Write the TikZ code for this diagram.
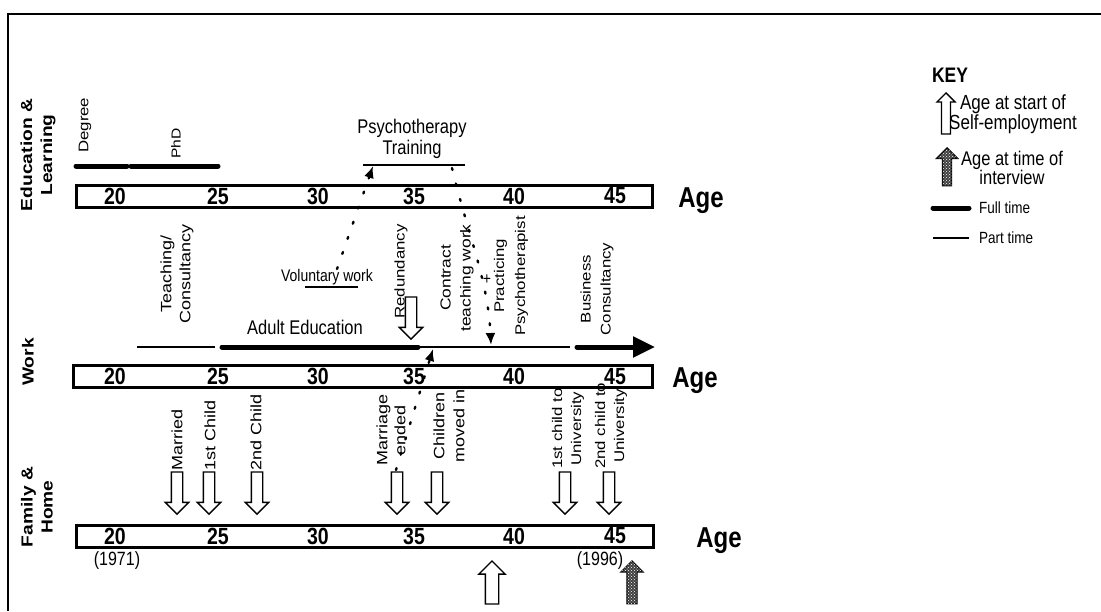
\documentclass[tikz,border=0pt]{standalone}
\usepackage{fontspec}
\setmainfont{Liberation Sans}
\usetikzlibrary{arrows.meta,shapes.arrows,patterns}
\newcommand\fz[2]{\fontsize{#1}{#2}\selectfont}
\begin{document}
\begin{tikzpicture}[x=1pt,y=-1pt,
  txt/.style={yscale=1.2, inner sep=0pt, align=center},
  rtxt/.style={inner sep=0pt, align=center, yscale=1.2, rotate=90},
  rlab/.style={rtxt, anchor=west},
  clab/.style={rtxt},
  cat/.style={rtxt, font=\bfseries\fz{16}{20}},
  num/.style={txt, font=\bfseries\fz{19.5}{20}},
  agelab/.style={txt, font=\bfseries\fz{24}{26}},
  yr/.style={txt, font=\fz{16}{18}},
  agebar/.style={draw, line width=3pt, inner sep=0pt, minimum height=22pt},
  full/.style={line width=5pt, line cap=round},
  part/.style={line width=2.8pt},
  dots/.style={line width=2.4pt, dash pattern=on 2pt off 14pt, line cap=round, -{Latex[length=12pt,width=10pt]}},
  downarr/.style={single arrow, draw, line width=1.4pt, fill=white, inner xsep=0pt, inner ysep=5pt, single arrow head extend=6pt, minimum height=42pt, rotate=-90, anchor=tip},
  bigup/.style={single arrow, draw, line width=1.4pt, fill=white, inner xsep=0pt, inner ysep=6pt, single arrow head extend=6.5pt, minimum height=43pt, rotate=90, anchor=tip},
  bigpat/.style={single arrow, draw, line width=1.2pt, fill=black!75, postaction={pattern=crosshatch dots, pattern color=white}, inner xsep=0pt, inner ysep=4.5pt, single arrow head extend=6pt, minimum height=43pt, rotate=90, anchor=tip},
  keyup/.style={single arrow, draw, line width=1.3pt, fill=white, inner xsep=0pt, inner ysep=3.8pt, single arrow head extend=4.7pt, minimum height=41pt, rotate=90, anchor=tip},
  keypat/.style={single arrow, draw, line width=1.2pt, fill=black!75, postaction={pattern=crosshatch dots, pattern color=white}, inner xsep=0pt, inner ysep=4pt, single arrow head extend=6pt, minimum height=38pt, rotate=90, anchor=tip}
]
\useasboundingbox (0,0) rectangle (1101,611);
% frame
\coordinate (fbl) at (8,611);
\coordinate (ftl) at (8,14);
\coordinate (ftr) at (1101,14);
\draw[line width=1.6pt] (fbl) -- (ftl) -- (ftr);

% category labels
\node[cat] (edlab) at (38,155) {Education \&\\Learning};
\node[cat] (worklab) at (28,362) {Work};
\node[cat] (famlab) at (37,507) {Family \&\\Home};

% age bars
\node[agebar, minimum width=576pt] (edubar) at (364,196) {};
\node[agebar, minimum width=579pt] (workbar) at (362.5,376.5) {};
\node[agebar, minimum width=577pt] (fambar) at (364.5,536) {};
\foreach \a/\x in {20/115,25/218,30/318,35/414,40/514,45/615}{
  \node[num] (edu\a) at (\x,196) {\a};
  \node[num] (work\a) at (\x,376.5) {\a};
  \node[num] (fam\a) at (\x,536) {\a};
}
\node[agelab] (ageedu) at (701,201) {Age};
\node[agelab] (agework) at (695,381) {Age};
\node[agelab] (agefam) at (719,541) {Age};

% education row
\draw[full] (76,166) -- (127,166);
\draw[full] (131,166) -- (218,166);
\node[rlab, font=\fz{14}{16}] (degree) at (85,153) {Degree};
\node[rlab, font=\fz{13}{15}] (phd) at (176,159) {PhD};
\node[txt, font=\fz{16.5}{18}] (psych) at (412,139) {Psychotherapy\\Training};
\draw[part] (363,165) -- (465,165);
\node[txt, font=\fz{14}{16}] (vol) at (327,277) {Voluntary work};
\draw[part] (305,287) -- (358,287);

% work row
\node[clab, font=\fz{15}{19}] (teach) at (177,274) {Teaching/\\Consultancy};
\draw[part] (137,347) -- (215,347);
\node[txt, font=\fz{16.5}{18}] (adult) at (305,327) {Adult Education};
\draw[full] (222,347) -- (418,347);
\draw[part] (418,347) -- (570,347);
\draw[full, -{Triangle[length=22pt,width=20pt]}] (577,347) -- (655,347);
\node[rlab, font=\fz{14}{16}] (redund) at (401,319) {Redundancy};
\node[downarr] (redarr) at (411,340) {};
\node[clab, font=\fz{14.5}{20}] (contract) at (457,278) {Contract\\teaching work};
\node[txt, font=\fz{14}{16}] (plus) at (487,280) {+};
\node[clab, font=\fz{14}{21}] (practice) at (511,276) {Practicing\\Psychotherapist};
\node[clab, font=\fz{14}{20}] (business) at (597,289) {Business\\Consultancy};

% family row
\foreach \n/\x in {married/177,child1/209,child2/257,ended/397,moved/437,uni1/565,uni2/609}{
  \node[downarr] (arr-\n) at (\x,515) {};
}
\node[rlab, font=\fz{15}{17}] (married) at (177,471) {Married};
\node[rlab, font=\fz{15}{17}] (child1) at (210,471) {1st Child};
\node[rlab, font=\fz{15}{17}] (child2) at (256,471) {2nd Child};
\node[rlab, font=\fz{15}{18}] (ended) at (391,466) {Marriage\\ended};
\node[rlab, font=\fz{15}{20}] (moved) at (449,463) {Children\\moved in};
\node[rlab, font=\fz{14}{19}] (uni1) at (568,469) {1st child to\\University};
\node[rlab, font=\fz{14}{19}] (uni2) at (611,469) {2nd child to\\University};

% dotted links
\coordinate (volstart) at (337,269);
\coordinate (trainhit) at (373,166);
\draw[dots] (volstart) -- (trainhit);
\coordinate (trainstart) at (452,168);
\coordinate (adulthit) at (491,345);
\draw[dots] (trainstart) .. controls (468,235) and (488,280) .. (adulthit);
\coordinate (marstart) at (396,470);
\coordinate (adulthit2) at (433,349);
\draw[dots] (marstart) -- (adulthit2);

% bottom
\node[yr] (y1971) at (117,561) {(1971)};
\node[yr] (y1996) at (600,561) {(1996)};
\node[bigup] (startarr) at (492,560) {};
\node[bigpat] (intarr) at (632,560) {};

% key
\node[txt, font=\bfseries\fz{17.5}{19}] (key) at (950,75) {KEY};
\node[keyup] (k1arr) at (946,92) {};
\node[txt, font=\fz{17}{15}] (k1) at (1013,114) {Age at start of\\Self-employment};
\node[keypat] (k2arr) at (947,147) {};
\node[txt, font=\fz{16.5}{14.5}] (k2) at (1012,168) {Age at time of\\interview};
\draw[full] (933,208) -- (969,208);
\node[txt, font=\fz{13.5}{15}, anchor=west] (kfull) at (979,208) {Full time};
\draw[part] (933,238) -- (969,238);
\node[txt, font=\fz{13.5}{15}, anchor=west] (kpart) at (979,238) {Part time};
\end{tikzpicture}
\end{document}
